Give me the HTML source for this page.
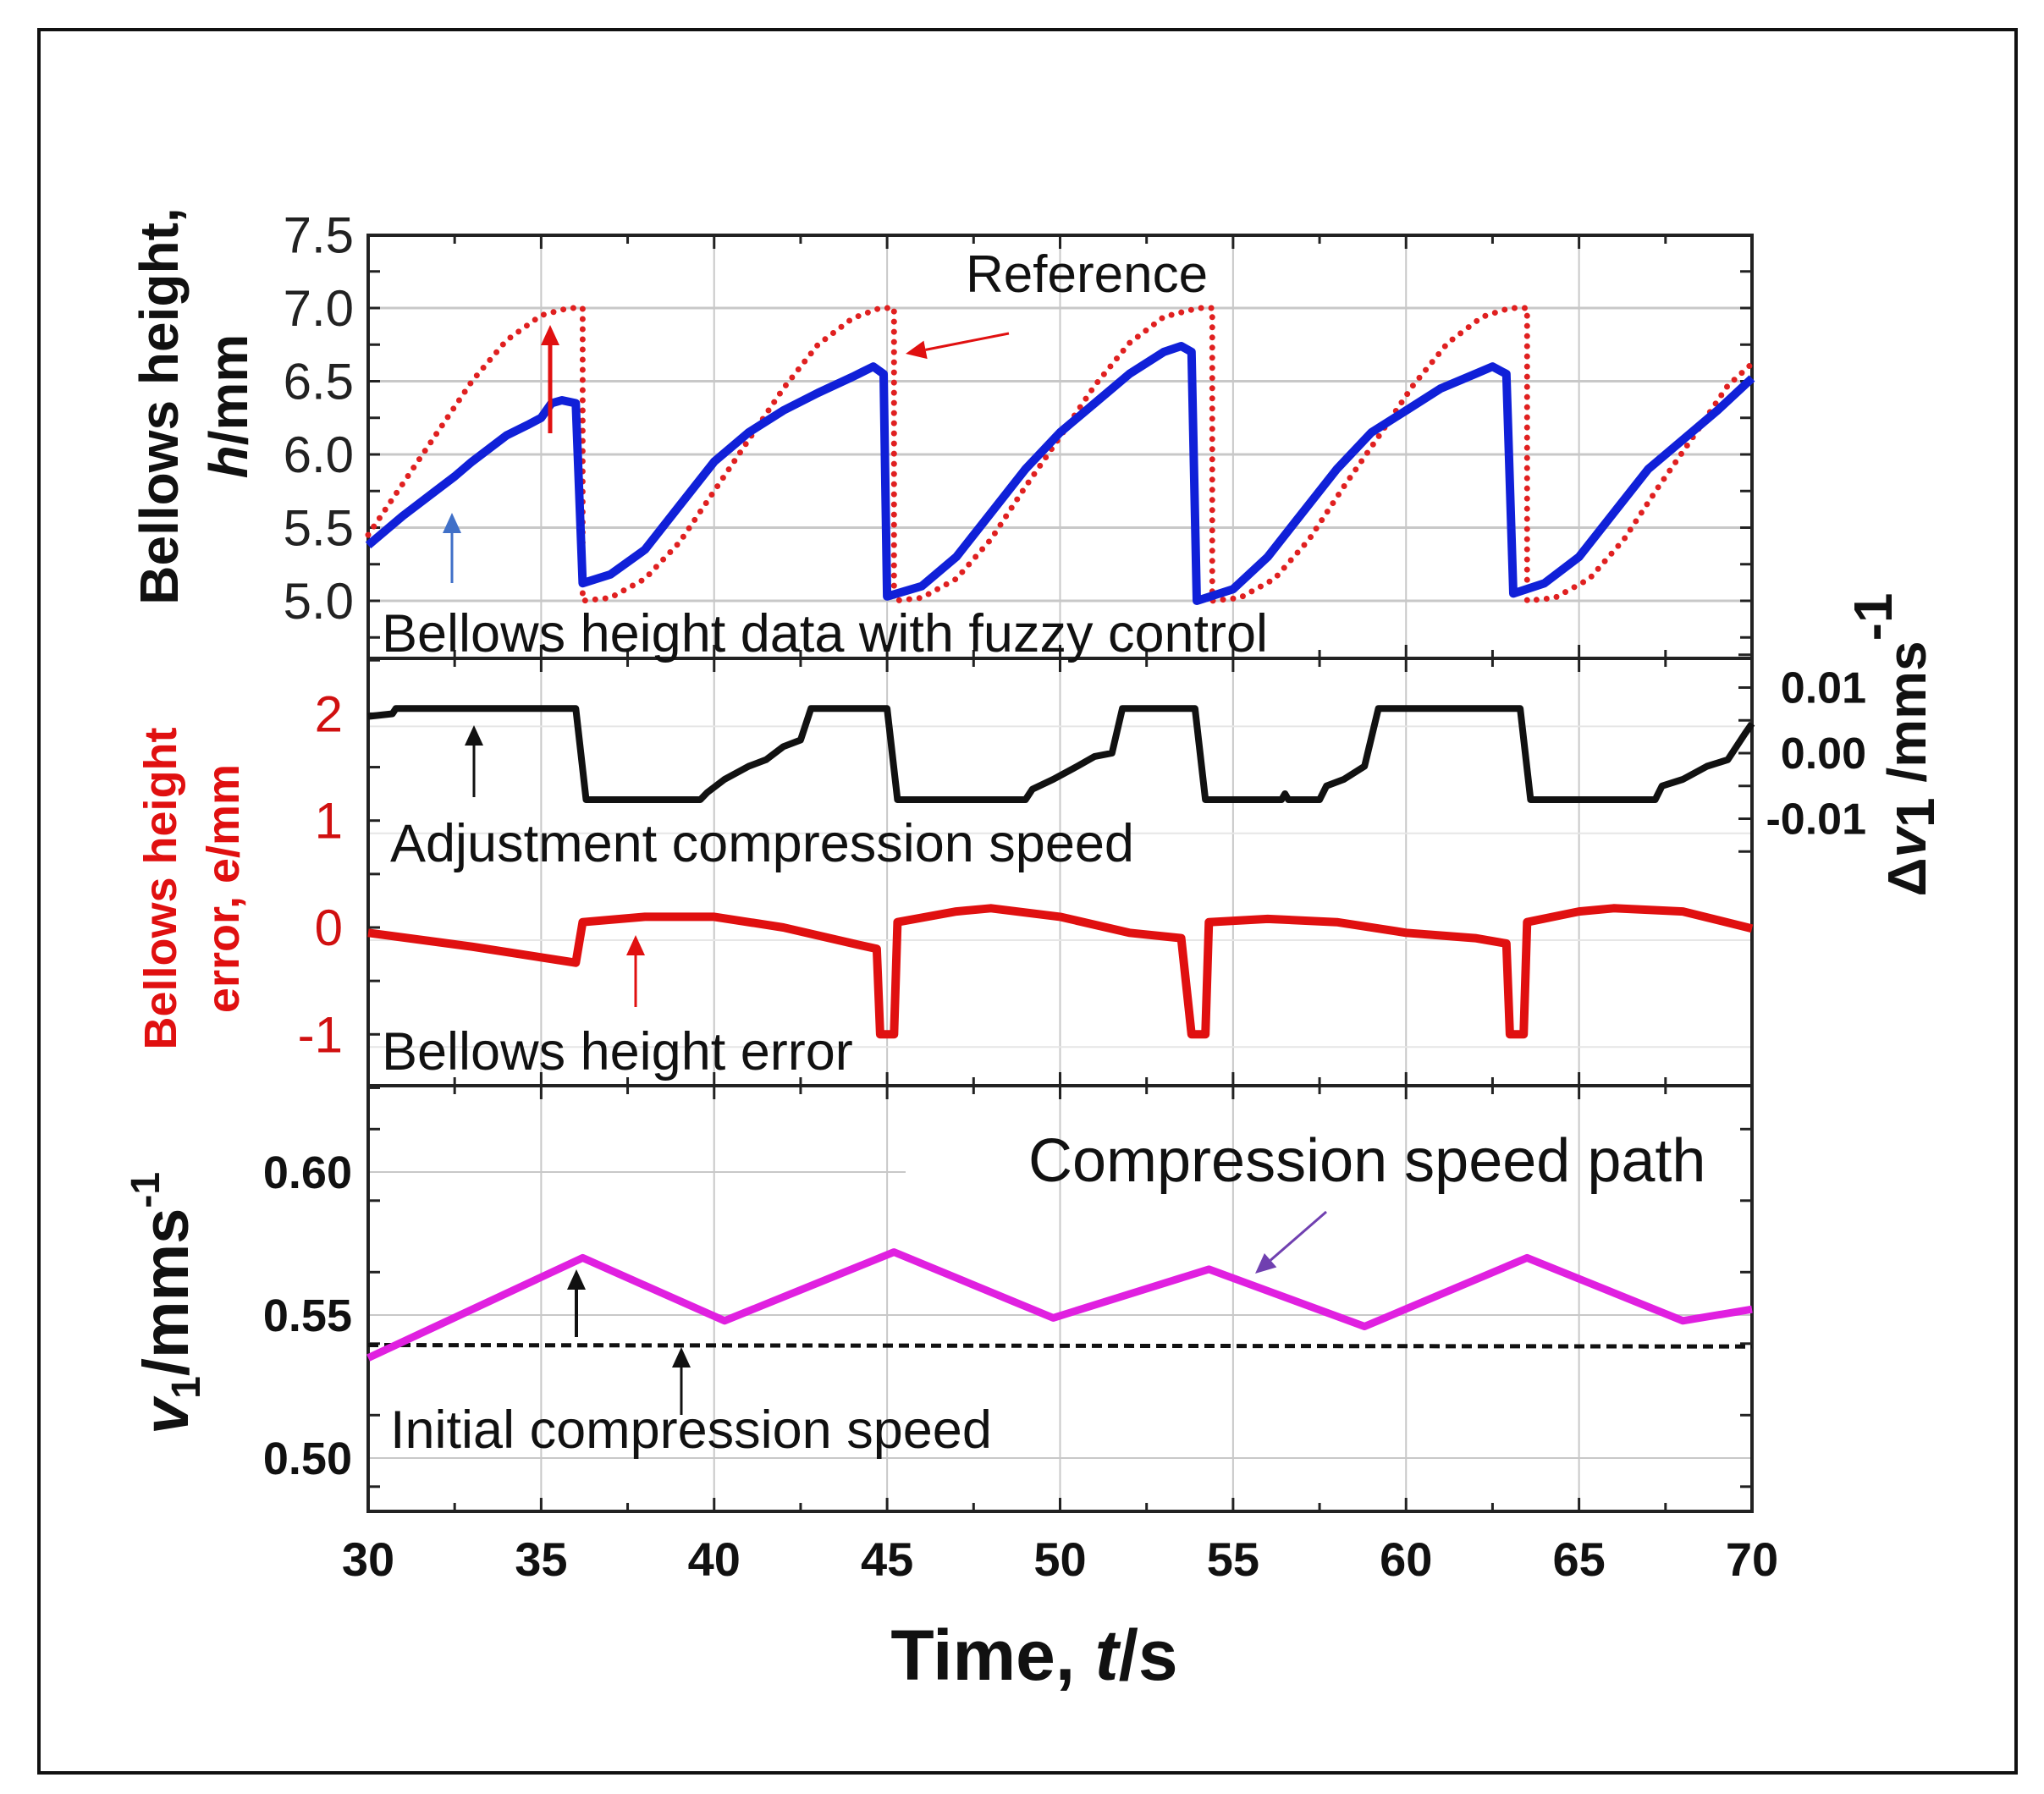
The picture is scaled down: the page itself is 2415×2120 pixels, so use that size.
<!DOCTYPE html>
<html><head><meta charset="utf-8"><style>
html,body{margin:0;padding:0;background:#fff}
svg{display:block}
text{font-family:"Liberation Sans",Arial,sans-serif}
</style></head><body>
<svg id="chart" width="2415" height="2120" viewBox="0 0 2415 2120" xmlns="http://www.w3.org/2000/svg">
<rect x="46" y="35" width="2336" height="2060" fill="#fff" stroke="#111" stroke-width="4"/>
<g id="layer"></g>
</svg>
<script>
// ---- data ----
const hT=[30,31,32,32.5,33,34,34.6,35,35.3,35.6,36,36.2,37,38,39,40,41,42,43,44,44.6,44.9,45,46,47,48,49,50,51,52,53,53.5,53.8,53.95,55,56,57,58,59,60,61,62,62.5,62.9,63.1,64,65,66,67,68,69,70];
const hV=[5.38,5.58,5.76,5.85,5.95,6.13,6.2,6.25,6.35,6.37,6.35,5.12,5.18,5.35,5.65,5.95,6.15,6.3,6.42,6.53,6.6,6.55,5.03,5.1,5.3,5.6,5.9,6.15,6.35,6.55,6.7,6.74,6.7,5.0,5.08,5.3,5.6,5.9,6.15,6.3,6.45,6.55,6.6,6.55,5.05,5.12,5.3,5.6,5.9,6.1,6.3,6.52];
const refT=[30,31,32,33,34,35,35.8,36.2,36.2,37,38,39,40,41,42,43,44,44.8,45.2,45.2,46,47,48,49,50,51,52,53,54,54.4,54.4,55.2,56.2,57.2,58.2,59.2,60.2,61.2,62.2,63,63.5,63.5,64.3,65.3,66.3,67.3,68.3,69.3,70];
const refV=[5.45,5.8,6.15,6.5,6.78,6.95,7.0,7.0,5.0,5.02,5.15,5.4,5.75,6.1,6.45,6.75,6.93,7.0,7.0,5.0,5.02,5.15,5.42,5.78,6.12,6.47,6.76,6.94,7.0,7.0,5.0,5.02,5.15,5.42,5.78,6.12,6.47,6.76,6.94,7.0,7.0,5.0,5.02,5.15,5.42,5.78,6.12,6.47,6.62];
const eT=[30,33,36,36.2,38,40,42,44,44.7,44.8,45.2,45.3,47,48,50,52,53.5,53.8,54.2,54.3,56,58,60,62,62.9,63,63.4,63.5,65,66,68,70];
const eV=[-0.05,-0.18,-0.33,0.05,0.1,0.1,0.0,-0.15,-0.2,-1.0,-1.0,0.05,0.15,0.18,0.1,-0.05,-0.1,-1.0,-1.0,0.05,0.08,0.05,-0.05,-0.1,-0.15,-1.0,-1.0,0.05,0.15,0.18,0.15,-0.01];
const dvT=[30,30.7,30.8,36.0,36.3,39.6,39.8,40.3,41,41.5,42,42.5,42.8,45.0,45.3,49.0,49.2,49.8,50.5,51,51.5,51.8,53.9,54.2,56.4,56.5,56.6,57.5,57.7,58.2,58.8,59.2,63.3,63.6,67.2,67.4,68,68.7,69.3,69.8,70];
const dvV=[0.0056,0.006,0.0068,0.0068,-0.0071,-0.0071,-0.006,-0.004,-0.002,-0.001,0.001,0.002,0.0068,0.0068,-0.0071,-0.0071,-0.0055,-0.004,-0.002,-0.0005,0,0.0068,0.0068,-0.0071,-0.0071,-0.0062,-0.0071,-0.0071,-0.005,-0.004,-0.002,0.0068,0.0068,-0.0071,-0.0071,-0.005,-0.004,-0.002,-0.001,0.003,0.0045];
const vT=[30,36.2,40.3,45.2,49.8,54.3,58.8,63.5,68,70];
const vV=[0.535,0.570,0.548,0.572,0.549,0.566,0.546,0.570,0.548,0.552];
const v0T=[30,70];
const v0V=[0.5395,0.539];
const xTicks=[30,35,40,45,50,55,60,65,70];
const hTicks=[5.0,5.5,6.0,6.5,7.0,7.5];
const eTicks=[-1,0,1,2];
const dvTicks=[-0.01,0.00,0.01];
const vTicks=[0.50,0.55,0.60];

// ---- scales ----
const L=435,R=2070;
const X=t=>L+(t-30)/40*(R-L);
const P1={top:278,bot:778}, P2={top:778,bot:1283}, P3={top:1283,bot:1786};
const YH=v=>710-(v-5.0)*173;
const YE=v=>1096-v*126.3;
const YD=v=>890-v*7750;
const YV=v=>1723-(v-0.50)*3380;

const NS="http://www.w3.org/2000/svg";
const g=document.getElementById('layer');
function el(tag,attrs,parent){const e=document.createElementNS(NS,tag);for(const k in attrs)e.setAttribute(k,attrs[k]);(parent||g).appendChild(e);return e;}
function txt(s,attrs){const e=el('text',attrs);e.textContent=s;return e;}
function path(T,V,Y){return T.map((t,i)=>(i?'L':'M')+X(t).toFixed(1)+','+Y(V[i]).toFixed(1)).join('');}

// grids
[P1,P2,P3].forEach(p=>{
  xTicks.forEach(t=>{if(t>30&&t<70){const l=el('line',{x1:X(t),x2:X(t),y1:p.top,y2:p.bot,stroke:'#c8c8c8','stroke-width':2});
    
    }});
});
hTicks.forEach(v=>{if(v<7.5){const l=el('line',{x1:L,x2:R,y1:YH(v),y2:YH(v),stroke:'#c8c8c8','stroke-width':3});
  
  }});
eTicks.forEach(v=>{const l=el('line',{x1:L,x2:R,y1:YE(v)+15,y2:YE(v)+15,stroke:'#e6e6e6','stroke-width':2});
  
  });
vTicks.forEach(v=>{const l=el('line',{x1:L,x2:v===0.60?1070:R,y1:YV(v),y2:YV(v),stroke:'#c8c8c8','stroke-width':2});
  
  });

// frames + ticks
[P1,P2,P3].forEach((p,k)=>{
  const r=el('rect',{x:L,y:p.top,width:R-L,height:p.bot-p.top,fill:'none',stroke:'#222','stroke-width':4});
  
  
  for(let t=30;t<=70;t+=2.5){
    const len=(t%5===0)?16:10;
    el('line',{x1:X(t),x2:X(t),y1:p.bot,y2:p.bot-len,stroke:'#222','stroke-width':3});
    el('line',{x1:X(t),x2:X(t),y1:p.top,y2:p.top+len,stroke:'#222','stroke-width':3});
  }
});
for(let v=4.75;v<7.5;v+=0.25){el('line',{x1:L,x2:L+14,y1:YH(v),y2:YH(v),stroke:'#222','stroke-width':3});el('line',{x1:R,x2:R-14,y1:YH(v),y2:YH(v),stroke:'#222','stroke-width':3});}
for(let v=-0.015;v<=0.0151;v+=0.005){el('line',{x1:R,x2:R-16,y1:YD(v),y2:YD(v),stroke:'#222','stroke-width':3});}
for(let v=-1.5;v<=2.5;v+=0.5){el('line',{x1:L,x2:L+14,y1:YE(v),y2:YE(v),stroke:'#222','stroke-width':3});}
for(let v=0.49;v<=0.63;v+=0.025){el('line',{x1:L,x2:L+14,y1:YV(v),y2:YV(v),stroke:'#222','stroke-width':3});el('line',{x1:R,x2:R-14,y1:YV(v),y2:YV(v),stroke:'#222','stroke-width':3});}

// tick labels
xTicks.forEach(t=>{const e=txt(String(t),{x:X(t),y:1862,'font-size':56,'font-weight':'bold','text-anchor':'middle',fill:'#111'});
  
  });
hTicks.forEach(v=>{const e=txt(v.toFixed(1),{x:418,y:YH(v)+21,'font-size':60,'text-anchor':'end',fill:'#222'});
  
  });
eTicks.forEach(v=>{const e=txt(String(v),{x:405,y:YE(v)+21,'font-size':60,'text-anchor':'end',fill:'#d01010'});
  
  });
dvTicks.forEach(v=>{const e=txt(v.toFixed(2),{x:2205,y:YD(v)+18,'font-size':52,'font-weight':'bold','text-anchor':'end',fill:'#111'});
  
  });
vTicks.forEach(v=>{const e=txt(v.toFixed(2),{x:416,y:YV(v)+19,'font-size':54,'font-weight':'bold','text-anchor':'end',fill:'#111'});
  
  });

// series
let s;
s=el('path',{d:path(refT,refV,YH),fill:'none',stroke:'#e02020','stroke-width':7,'stroke-dasharray':'0 12','stroke-linecap':'round'});


s=el('path',{d:path(hT,hV,YH),fill:'none',stroke:'#1020d8','stroke-width':10,'stroke-linejoin':'round'});


s=el('path',{d:path(dvT,dvV,YD),fill:'none',stroke:'#111','stroke-width':8,'stroke-linejoin':'round'});


s=el('path',{d:path(eT,eV,YE),fill:'none',stroke:'#e01010','stroke-width':10,'stroke-linejoin':'round'});


s=el('path',{d:path(v0T,v0V,YV),fill:'none',stroke:'#111','stroke-width':5,'stroke-dasharray':'12 7'});


s=el('path',{d:path(vT,vV,YV),fill:'none',stroke:'#e020e0','stroke-width':9,'stroke-linejoin':'round'});



// arrows
function arrow(x1,y1,x2,y2,c,w,name){
  const a=Math.atan2(y2-y1,x2-x1),hl=24,hw=11;
  const bx=x2-hl*Math.cos(a),by=y2-hl*Math.sin(a);
  const grp=el('g',{});
  
  
  el('line',{x1:x1,y1:y1,x2:bx,y2:by,stroke:c,'stroke-width':w},grp);
  el('polygon',{points:`${x2},${y2} ${bx+hw*Math.sin(a)},${by-hw*Math.cos(a)} ${bx-hw*Math.sin(a)},${by+hw*Math.cos(a)}`,fill:c},grp);
}
arrow(534,689,534,606,'#4070c8',3,'blue-arrow');
arrow(650,512,650,384,'#e01010',5,'red-up-arrow');
arrow(1192,394,1070,418,'#e01010',3,'reference-arrow');
arrow(560,942,560,857,'#111',3,'adjustment-arrow');
arrow(751,1190,751,1105,'#e01010',3,'error-arrow');
arrow(1567,1432,1483,1505,'#7040b0',3,'speed-path-arrow');
arrow(681,1580,681,1500,'#111',4,'peak-arrow');
arrow(805,1672,805,1592,'#111',3,'initial-speed-arrow');

// annotations
function ann(s,x,y,fs,name){const e=txt(s,{x:x,y:y,'font-size':fs,fill:'#111'});
  
  return e;}
ann('Reference',1141,345,62,'reference-label');
ann('Bellows height data with fuzzy control',451,770,63,'height-data-label');
ann('Adjustment compression speed',461,1018,63,'adjustment-speed-label');
ann('Bellows height error',451,1264,63,'height-error-label');
ann('Compression speed path',1215,1396,72,'compression-path-label');
ann('Initial compression speed',461,1711,63,'initial-speed-label');

// axis titles
let t;
t=txt('',{transform:'translate(210,480) rotate(-90)','font-size':64,'font-weight':'bold','text-anchor':'middle',fill:'#111'});
t.innerHTML='Bellows height,';


t=txt('',{transform:'translate(292,480) rotate(-90)','font-size':64,'font-weight':'bold','text-anchor':'middle',fill:'#111'});
t.innerHTML='<tspan font-style="italic">h</tspan>/mm';


t=txt('Bellows height',{transform:'translate(208,1050) rotate(-90)','font-size':54,'font-weight':'bold','text-anchor':'middle',fill:'#e01010'});


t=txt('error, e/mm',{transform:'translate(282,1050) rotate(-90)','font-size':54,'font-weight':'bold','text-anchor':'middle',fill:'#e01010'});


t=txt('',{transform:'translate(222,1540) rotate(-90)','font-size':76,'font-weight':'bold','text-anchor':'middle',fill:'#111'});
t.innerHTML='<tspan font-style="italic">v</tspan><tspan font-size="48" dy="14">1</tspan><tspan dy="-14">/mms</tspan><tspan font-size="48" dy="-34">-1</tspan>';


t=txt('',{transform:'translate(2275,880) rotate(-90)','font-size':64,'font-weight':'bold','text-anchor':'middle',fill:'#111'});
t.innerHTML='Δ<tspan font-style="italic">v</tspan><tspan dy="10">1</tspan><tspan dy="-10"> /mms</tspan><tspan dy="-40">-1</tspan>';


t=txt('',{x:1222,y:1985,'font-size':84,'font-weight':'bold','text-anchor':'middle',fill:'#111'});
t.innerHTML='Time, <tspan font-style="italic">t</tspan>/s';


</script>
</body></html>
